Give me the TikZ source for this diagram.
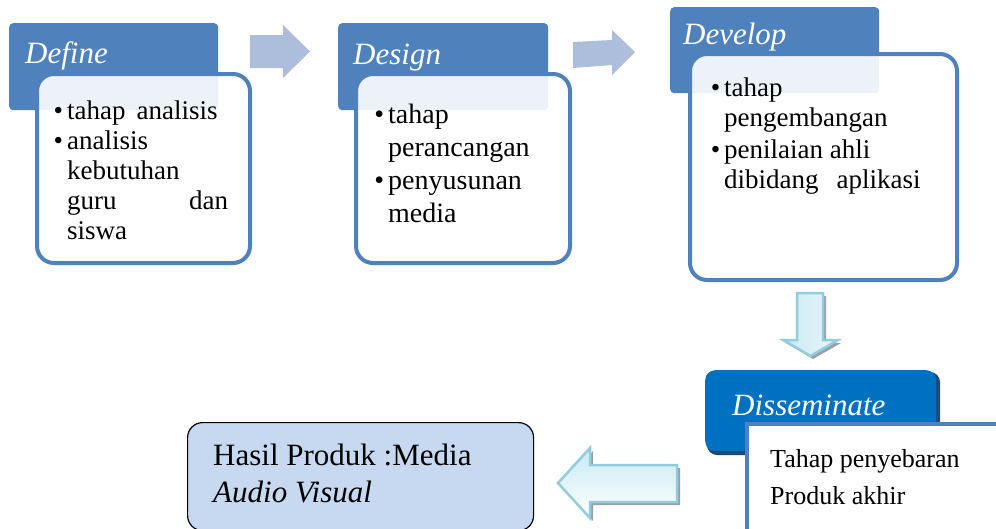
\documentclass[tikz,border=0pt]{standalone}
\usepackage{fontspec}
\setmainfont{Liberation Serif}
\usepackage{tikz}
\usetikzlibrary{positioning}
\definecolor{hdrblue}{RGB}{79,129,189}
\definecolor{arrowgrey}{RGB}{172,190,220}
\definecolor{disblue}{RGB}{0,112,192}
\definecolor{disdark}{RGB}{31,73,125}
\definecolor{resfill}{RGB}{198,217,241}
\definecolor{cyanedge}{RGB}{146,205,221}
\definecolor{cyanlite}{RGB}{200,233,243}
\definecolor{shadowgrey}{RGB}{150,160,166}
\newcommand{\bul}{\llap{\textbullet\hspace{4pt}}}
\tikzset{
  header/.style={rectangle, fill=hdrblue, rounded corners=4pt,
    anchor=north west, inner sep=0pt},
  body/.style={rectangle, draw=hdrblue, fill=white, fill opacity=0.9,
    line width=4pt, rounded corners=17pt, anchor=north west, inner sep=0pt},
  title/.style={anchor=base west, inner sep=0pt, text=white,
    font=\fontsize{31}{36}\selectfont\itshape},
  items/.style={anchor=base west, align=left, inner sep=0pt},
  greyarrow/.style={fill=arrowgrey},
  cyanarrow/.style={draw=cyanedge, line width=2.5pt},
  arrowshadow/.style={fill=shadowgrey}
}

\begin{document}
\begin{tikzpicture}[x=1pt, y=-1pt]
  \useasboundingbox (0,0) rectangle (996,528);
  \clip (0,0) rectangle (996,528);

  % Arrows between the top stages
  \fill[greyarrow] (250,35) -- (283,35) -- (283,25) -- (310,51.5) -- (283,78) -- (283,68) -- (250,68) -- cycle;
  \fill[greyarrow] (573,42) -- (612,40) -- (612,30) -- (635,52) -- (612,75) -- (612,65) -- (573,68) -- cycle;

  % Define (left)
  \node[header, minimum width=209pt, minimum height=87pt] (define) at (9,23) {};
  \node[body, minimum width=213pt, minimum height=189pt] (defbody) at (35,72) {};
  \node[title] (deftitle) at (25,63) {Define};
  \node[items, font=\fontsize{27}{30}\selectfont] (defitems) at (67,239)
    {\bul tahap\hspace{11pt}analisis\\\bul analisis\\kebutuhan\\\hbox to 161pt{guru\hfill dan}\\siswa};

  % Design (middle)
  \node[header, minimum width=210pt, minimum height=87pt] (design) at (338,23) {};
  \node[body, minimum width=214pt, minimum height=189pt] (desbody) at (354,72) {};
  \node[title] (destitle) at (353,64) {Design};
  \node[items, font=\fontsize{28}{33}\selectfont] (desitems) at (388,222)
    {\bul tahap\\perancangan\\\bul penyusunan\\media};

  % Develop (right)
  \node[header, minimum width=209pt, minimum height=86pt] (develop) at (670,7) {};
  \node[body, minimum width=267pt, minimum height=226pt] (devbody) at (688,52) {};
  \node[title] (devtitle) at (683,44) {Develop};
  \node[items, font=\fontsize{27}{30}\selectfont] (devitems) at (724,188)
    {\bul tahap\\pengembangan\\[2pt]\bul penilaian ahli\\dibidang\hspace{18pt}aplikasi};

  % Down arrow
  \fill[arrowshadow] (800,296) -- (826,296) -- (826,343) -- (841,343) -- (813,359) -- (786,343) -- (800,343) -- cycle;
  \path[cyanarrow, left color=cyanlite, right color=cyanlite!40] (797,293) -- (823,293) -- (823,340) -- (838,340) -- (810.5,356) -- (783,340) -- (797,340) -- cycle;

  % Disseminate
  \fill[disdark, rounded corners=10pt] (707,372) rectangle (940,455);
  \node[rectangle, fill=disblue, rounded corners=10pt, anchor=north west, inner sep=0pt,
    minimum width=231pt, minimum height=81pt] (dissem) at (705,370) {};
  \node[title] (distitle) at (732,415) {Disseminate};
  \node[rectangle, draw=hdrblue, fill=white, line width=4pt, anchor=north west, inner sep=0pt,
    minimum width=270pt, minimum height=140pt] (disbody) at (745,422) {};
  \node[items, font=\fontsize{26}{37}\selectfont] (disitems) at (770,504)
    {Tahap penyebaran\\Produk akhir};

  % Left arrow
  \fill[arrowshadow] (680,468) -- (680,505) -- (593,505) -- (593,521) -- (561,486) -- (593,451) -- (593,468) -- cycle;
  \path[cyanarrow, top color=cyanlite, bottom color=white] (677,465) -- (677,502) -- (590,502) -- (590,518) -- (558,483) -- (590,448) -- (590,465) -- cycle;

  % Result
  \node[rectangle, draw=black, fill=resfill, line width=1.2pt, rounded corners=15pt,
    anchor=north west, inner sep=0pt, minimum width=346pt, minimum height=108pt] (hasil) at (187,422) {};
  \node[items, font=\fontsize{31}{37}\selectfont] (hasiltext) at (213,502)
    {Hasil Produk :Media\\\textit{Audio Visual}};
\end{tikzpicture}
\end{document}
